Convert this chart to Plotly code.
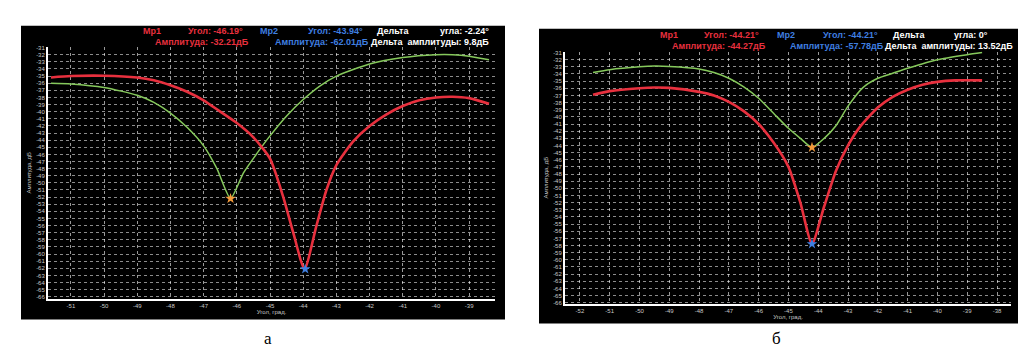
import plotly.graph_objects as go

W, H = 1027, 363

# ---------- data ----------
# Panel "а"
a_green_angle = [-51.6, -51.0, -50.0, -49.0, -48.5, -48.0, -47.5, -47.0, -46.6, -46.19, -45.8, -45.4, -45.0, -44.5, -44.0, -43.5, -43.0, -42.0, -41.0, -40.0, -39.5, -39.0, -38.4]
a_green_db = [-36.0, -36.1, -36.6, -37.7, -38.7, -40.2, -42.2, -44.8, -48.0, -52.2, -48.6, -45.9, -43.4, -40.6, -38.3, -36.4, -35.0, -33.3, -32.4, -32.0, -32.0, -32.2, -32.7]
a_red_angle = [-51.6, -51.0, -50.0, -49.0, -48.5, -48.0, -47.5, -47.0, -46.5, -46.0, -45.5, -45.0, -44.6, -44.3, -43.96, -43.6, -43.3, -43.0, -42.5, -42.0, -41.5, -41.0, -40.5, -40.0, -39.5, -39.0, -38.4]
a_red_db = [-35.2, -35.0, -34.95, -35.2, -35.6, -36.3, -37.2, -38.4, -40.0, -41.6, -43.6, -46.6, -52.0, -57.0, -62.1, -56.0, -51.0, -47.5, -44.2, -42.0, -40.4, -39.2, -38.4, -38.0, -37.9, -38.1, -38.9]
a_mk1 = (-46.19, -52.2)
a_mk2 = (-43.94, -62.1)
a_xticks = [-51, -50, -49, -48, -47, -46, -45, -44, -43, -42, -41, -40, -39]

# Panel "б"
b_green_angle = [-51.56, -51.0, -50.0, -49.5, -49.0, -48.0, -47.5, -47.0, -46.5, -46.0, -45.5, -45.0, -44.6, -44.21, -43.8, -43.4, -43.0, -42.5, -42.0, -41.5, -41.0, -40.0, -39.0, -38.5]
b_green_db = [-33.8, -33.4, -33.0, -32.9, -32.95, -33.3, -33.8, -34.6, -35.8, -37.4, -39.5, -41.6, -43.0, -44.27, -43.0, -41.2, -38.5, -35.9, -34.6, -33.9, -33.2, -32.0, -31.3, -31.0]
b_red_angle = [-51.56, -51.0, -50.0, -49.5, -49.0, -48.0, -47.5, -47.0, -46.5, -46.0, -45.5, -45.0, -44.6, -44.21, -43.8, -43.4, -43.0, -42.6, -42.0, -41.5, -41.0, -40.5, -40.0, -39.4, -38.5]
b_red_db = [-36.9, -36.4, -36.0, -35.9, -35.95, -36.5, -37.0, -37.9, -39.2, -41.0, -43.6, -47.0, -52.0, -57.78, -52.5, -47.5, -44.0, -41.4, -38.7, -37.2, -36.2, -35.5, -35.1, -34.9, -34.9]
b_mk1 = (-44.21, -44.27)
b_mk2 = (-44.21, -57.78)
b_xticks = [-52, -51, -50, -49, -48, -47, -46, -45, -44, -43, -42, -41, -40, -39, -38]

y_ticks = list(range(-31, -67, -1))

RED = "#e8303e"
GREEN = "#86c95c"
BLUE = "#3f7fe0"
ORANGE = "#f39a3a"

fig = go.Figure()

def add_panel(xa, ya, g_x, g_y, r_x, r_y, m1, m2):
    fig.add_trace(go.Scatter(x=g_x, y=g_y, mode="lines", line=dict(color=GREEN, width=1.5, shape="spline", smoothing=0.6),
                             xaxis=xa, yaxis=ya, showlegend=False, hoverinfo="skip"))
    fig.add_trace(go.Scatter(x=r_x, y=r_y, mode="lines", line=dict(color=RED, width=2.6, shape="spline", smoothing=0.6),
                             xaxis=xa, yaxis=ya, showlegend=False, hoverinfo="skip"))
    fig.add_trace(go.Scatter(x=[m1[0]], y=[m1[1]], mode="markers", marker=dict(symbol="star", size=8, color=ORANGE),
                             xaxis=xa, yaxis=ya, showlegend=False, hoverinfo="skip"))
    fig.add_trace(go.Scatter(x=[m2[0]], y=[m2[1]], mode="markers", marker=dict(symbol="star", size=8, color=BLUE),
                             xaxis=xa, yaxis=ya, showlegend=False, hoverinfo="skip"))

add_panel("x", "y", a_green_angle, a_green_db, a_red_angle, a_red_db, a_mk1, a_mk2)
add_panel("x2", "y2", b_green_angle, b_green_db, b_red_angle, b_red_db, b_mk1, b_mk2)

tickfont = dict(family="Liberation Sans", size=6, color="#c8c8c8")
common_x = dict(showgrid=True, gridcolor="rgba(255,255,255,0.6)", griddash="dot", gridwidth=1,
                showline=True, linecolor="white", linewidth=2, zeroline=False, ticks="",
                tickfont=tickfont, title=dict(text="Угол, град.", font=dict(family="Liberation Sans", size=6, color="#c8c8c8"), standoff=2))
common_y = dict(showgrid=True, gridcolor="rgba(255,255,255,0.55)", griddash="dot", gridwidth=1,
                showline=True, linecolor="white", linewidth=2, zeroline=False, ticks="",
                tickvals=y_ticks, ticktext=[str(v) for v in y_ticks],
                tickfont=tickfont, title=dict(text="Амплитуда, дБ", font=dict(family="Liberation Sans", size=6, color="#c8c8c8"), standoff=4))

def px_x(p):
    return p / W

def px_y(p):
    return 1 - p / H

fig.update_layout(
    width=W, height=H, margin=dict(l=0, r=0, t=0, b=0),
    paper_bgcolor="white", plot_bgcolor="black",
    xaxis=dict(domain=[px_x(40), px_x(487)], range=[-51.69, -38.22], anchor="y",
               tickvals=a_xticks, ticktext=[str(v) for v in a_xticks], **common_x),
    yaxis=dict(domain=[px_y(292), px_y(37)], range=[-66.28, -30.86], anchor="x", **common_y),
    xaxis2=dict(domain=[px_x(557), px_x(1003)], range=[-52.5, -37.53], anchor="y2",
                tickvals=b_xticks, ticktext=[str(v) for v in b_xticks], **common_x),
    yaxis2=dict(domain=[px_y(297), px_y(42)], range=[-66.14, -30.86], anchor="x2", **common_y),
)

# black panel backgrounds
for (x0, y0, x1, y1) in [(13, 16, 497, 313), (531, 19, 1010, 317)]:
    fig.add_shape(type="rect", xref="paper", yref="paper", x0=px_x(x0), x1=px_x(x1), y0=px_y(y1), y1=px_y(y0),
                  fillcolor="black", line=dict(width=0), layer="below")

hfont = "Liberation Sans"
def txt(x, y, s, color, anchor="left", size=9):
    fig.add_annotation(xref="paper", yref="paper", x=px_x(x), y=px_y(y), text="<b>" + s + "</b>", showarrow=False,
                       xanchor=anchor, yanchor="middle", font=dict(family=hfont, size=size, color=color))

# header panel а
txt(133, 21, "Мр1", RED)
txt(237, 21, "Угол: -46.19°", RED, "right")
txt(243, 32, "Амплитуда: -32.21дБ", RED, "right")
txt(250, 21, "Мр2", BLUE)
txt(357, 21, "Угол: -43.94°", BLUE, "right")
txt(363, 32, "Амплитуда: -62.01дБ", BLUE, "right")
txt(367, 21, "Дельта", "white")
txt(483, 21, "угла: -2.24°", "white", "right")
txt(483, 32, "Дельта  амплитуды: 9.8дБ", "white", "right")

# header panel б
txt(650, 25, "Мр1", RED)
txt(753, 25, "Угол: -44.21°", RED, "right")
txt(760, 36, "Амплитуда: -44.27дБ", RED, "right")
txt(767, 25, "Мр2", BLUE)
txt(872, 25, "Угол: -44.21°", BLUE, "right")
txt(878, 36, "Амплитуда: -57.78дБ", BLUE, "right")
txt(883, 25, "Дельта", "white")
txt(982, 25, "угла: 0°", "white", "right")
txt(1007, 36, "Дельта  амплитуды: 13.52дБ", "white", "right")

# captions
fig.add_annotation(xref="paper", yref="paper", x=px_x(254), y=px_y(344), text="а", showarrow=False,
                   font=dict(family="Liberation Serif", size=17, color="black"))
fig.add_annotation(xref="paper", yref="paper", x=px_x(775), y=px_y(344), text="б", showarrow=False,
                   font=dict(family="Liberation Serif", size=17, color="black"))

fig.write_html("out.html")
